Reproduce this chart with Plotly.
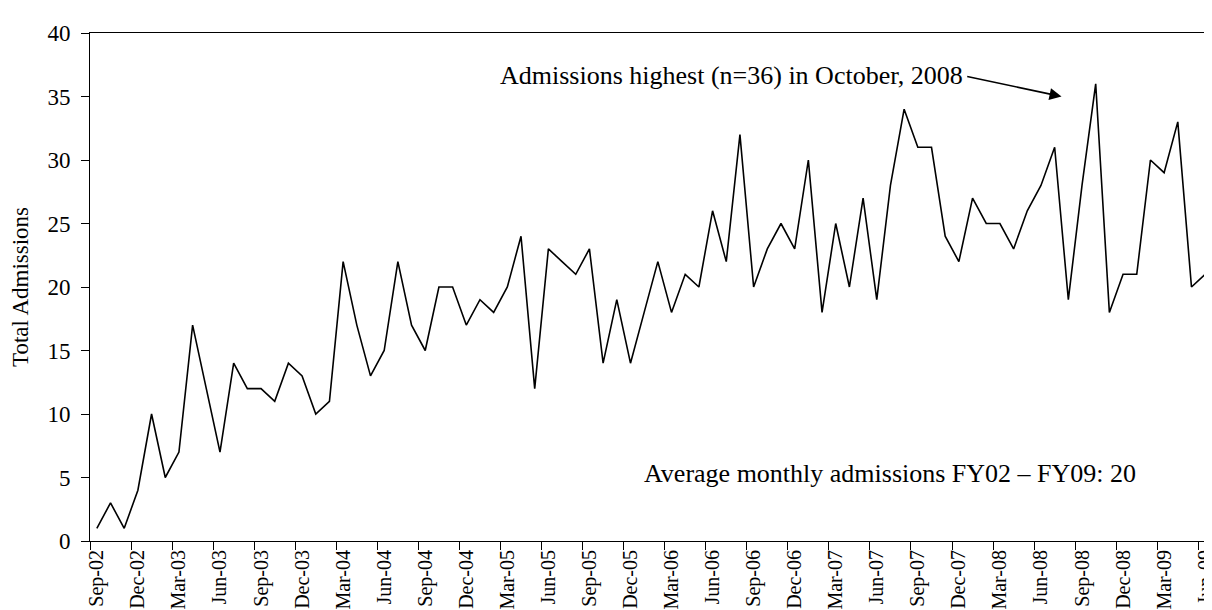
import pandas as pd
import plotly.graph_objects as go

months = [d.strftime("%b-%y") for d in pd.date_range("2002-09-01", "2009-06-01", freq="MS")]

admissions = [
    1, 3, 1, 4, 10, 5, 7, 17, 12, 7, 14, 12,      # Sep-02 .. Aug-03
    12, 11, 14, 13, 10, 11, 22, 17, 13, 15, 22, 17,  # Sep-03 .. Aug-04
    15, 20, 20, 17, 19, 18, 20, 24, 12, 23, 22, 21,  # Sep-04 .. Aug-05
    23, 14, 19, 14, 18, 22, 18, 21, 20, 26, 22, 32,  # Sep-05 .. Aug-06
    20, 23, 25, 23, 30, 18, 25, 20, 27, 19, 28, 34,  # Sep-06 .. Aug-07
    31, 31, 24, 22, 27, 25, 25, 23, 26, 28, 31, 19,  # Sep-07 .. Aug-08
    28, 36, 18, 21, 21, 30, 29, 33, 20, 21,          # Sep-08 .. Jun-09
]

y_ticks = [0, 5, 10, 15, 20, 25, 30, 35, 40]

peak_text = "Admissions highest (n=36) in October, 2008"
avg_text = "Average monthly admissions FY02 \u2013 FY09: 20"

FONT = "Liberation Serif, Times New Roman, serif"

fig = go.Figure()
fig.add_trace(go.Scatter(
    x=months, y=admissions, mode="lines",
    line=dict(color="black", width=1.6),
    hoverinfo="skip", showlegend=False,
))

fig.update_layout(
    width=1212, height=610,
    margin=dict(l=82, r=8, t=25, b=77),
    paper_bgcolor="white", plot_bgcolor="white",
    font=dict(family=FONT, color="black", size=23),
    xaxis=dict(
        type="category", range=[-0.5, len(months) - 0.5],
        tickmode="linear", tick0=0, dtick=3, tickson="boundaries",
        tickangle=-90, ticks="outside", ticklen=8, tickcolor="black",
        ticklabelstandoff=0,
        showline=True, linecolor="black", linewidth=1, mirror=True,
        showgrid=False, zeroline=False, automargin=False,
        tickfont=dict(family=FONT, size=20, color="black"),
    ),
    yaxis=dict(
        range=[0, 40], tickvals=y_ticks,
        ticks="outside", ticklen=8, tickcolor="black",
        ticklabelstandoff=6,
        showline=True, linecolor="black", linewidth=1, mirror=True,
        showgrid=False, zeroline=False, automargin=False,
        tickfont=dict(family=FONT, size=23, color="black"),
        title=dict(text="Total Admissions", font=dict(family=FONT, size=23, color="black"), standoff=15),
    ),
)

fig.add_annotation(
    x=63.45, y=36.65, xref="x", yref="y", text=peak_text, showarrow=False,
    xanchor="right", yanchor="middle",
    font=dict(family=FONT, size=26, color="black"),
)
fig.add_annotation(
    x=70.5, y=35.0, xref="x", yref="y", ax=63.5, ay=36.6, axref="x", ayref="y",
    text="", showarrow=True, arrowhead=2, arrowsize=1.5, arrowwidth=1.6, arrowcolor="black",
)
fig.add_annotation(
    x=58.0, y=5.3, xref="x", yref="y", text=avg_text, showarrow=False,
    xanchor="center", yanchor="middle",
    font=dict(family=FONT, size=26, color="black"),
)

fig.write_html("out.html")
